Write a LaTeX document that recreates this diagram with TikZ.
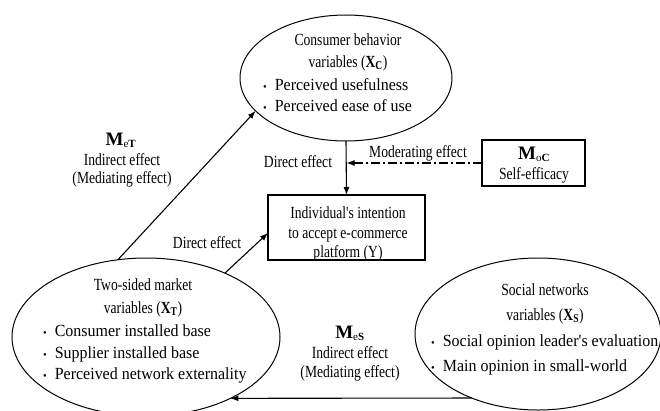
\documentclass[tikz,border=0pt]{standalone}
\usepackage{fontspec}
\setmainfont{Liberation Serif}
\newfontfamily\cond[FakeStretch=0.8]{Liberation Serif}
\newfontfamily\bulfont[FakeStretch=0.94]{Liberation Serif}
\usetikzlibrary{shapes.geometric,arrows.meta}
\newcommand\mybul{{\fontsize{11}{11}\selectfont\textbullet}\hspace{8pt}}
\newcommand\mlab[2]{\textbf{\fontsize{19}{19}\selectfont M}\textsubscript{\fontsize{11}{11}\selectfont #1\textbf{#2}}}
\newcommand\xvar[1]{\textbf{X}\textsubscript{\textbf{#1}}}
\begin{document}
\begin{tikzpicture}[x=1pt,y=-1pt,
  ell/.style={ellipse,draw,line width=1pt,inner sep=0,outer sep=0},
  boxn/.style={draw,line width=1.2pt,inner sep=0,outer sep=0},
  lbl/.style={inner sep=0,anchor=base,font=\cond\fontsize{17}{18}\selectfont},
  bul/.style={inner sep=0,anchor=base west,font=\bulfont\fontsize{17}{18}\selectfont},
  arr/.style={line width=1.1pt,-{Latex[length=8pt,width=6pt]}},
]
\useasboundingbox[fill=white] (0,0) rectangle (660,410);
\clip (0,0) rectangle (660,410);

% shapes
\node[ell,minimum width=212pt,minimum height=126pt] (T) at (346,78) {};
\node[ell,minimum width=268pt,minimum height=158pt] (L) at (146,337) {};
\node[ell,minimum width=246pt,minimum height=152pt] (R) at (538,334) {};
\node[boxn,minimum width=157pt,minimum height=65pt] (Y) at (346.5,227.5) {};
\node[boxn,minimum width=103pt,minimum height=46pt] (MoC) at (533.5,163) {};

% top ellipse text
\node[lbl] (t1) at (348,45) {Consumer behavior};
\node[lbl] (t2) at (348,67) {variables (\xvar{C})};
\node[bul] (t3) at (263,90) {\mybul Perceived usefulness};
\node[bul] (t4) at (263,111) {\mybul Perceived ease of use};

% left ellipse text
\node[lbl] (l1) at (143,290) {Two-sided market};
\node[lbl] (l2) at (143,313) {variables (\xvar{T})};
\node[bul] (l3) at (43,336) {\mybul Consumer installed base};
\node[bul] (l4) at (43,358) {\mybul Supplier installed base};
\node[bul] (l5) at (43,379) {\mybul Perceived network externality};

% right ellipse text
\node[lbl] (r1) at (545,295) {Social networks};
\node[lbl] (r2) at (545,320) {variables (\xvar{S})};
\node[bul] (r3) at (431,346) {\mybul Social opinion leader's evaluation};
\node[bul] (r4) at (431,371) {\mybul Main opinion in small-world};

% box text
\node[lbl] (y1) at (348,218) {Individual's intention};
\node[lbl] (y2) at (348,238) {to accept e-commerce};
\node[lbl] (y3) at (348,257) {platform (Y)};

% moderator box text
\node[lbl,font=\fontsize{16}{18}\selectfont] (m1) at (534,159) {\mlab{o}{C}};
\node[lbl] (m2) at (534,179) {Self-efficacy};

% mediating labels
\node[lbl,font=\fontsize{16}{18}\selectfont] (a1) at (121,145) {\mlab{e}{T}};
\node[lbl] (a2) at (122,165) {Indirect effect};
\node[lbl] (a3) at (122,183) {(Mediating effect)};

\node[lbl,font=\fontsize{16}{18}\selectfont] (b1) at (350,338) {\mlab{e}{S}};
\node[lbl] (b2) at (350,358) {Indirect effect};
\node[lbl] (b3) at (350,377) {(Mediating effect)};

\node[lbl] (d1) at (207,248) {Direct effect};
\node[lbl] (d2) at (298,167) {Direct effect};
\node[lbl] (d3) at (418,157) {Moderating effect};

% connectors
\draw[arr] (L.110) -- (T.200);
\draw[arr] (L.39) -- (Y.west |- 0,233);
\draw[arr] (T.south) -- (Y.north);
\draw[arr,dash pattern=on 9pt off 3pt on 2pt off 3pt] (MoC.west) -- (MoC.west -| Y.north);
\draw[arr] (R.224) -- (L.-36);
\end{tikzpicture}
\end{document}
